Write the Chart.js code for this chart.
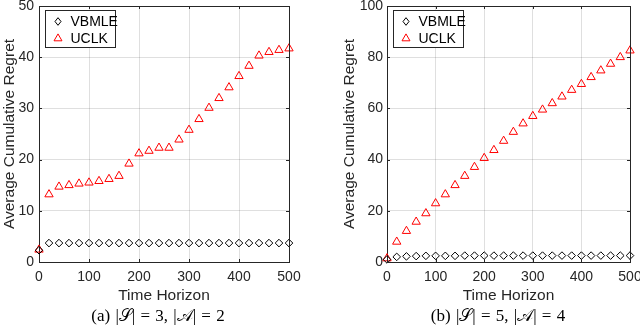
<!DOCTYPE html>
<html>
<head>
<meta charset="utf-8">
<script src="https://cdn.jsdelivr.net/npm/chart.js@4.4.1/dist/chart.umd.min.js"></script>
<style>
  html, body { margin: 0; padding: 0; background: #fff; }
  #wrap { position: relative; width: 640px; height: 328px; overflow: hidden; }
  .panel { position: absolute; top: 0; width: 320px; height: 328px; }
  .caption {
    position: absolute; top: 306px; width: 320px; text-align: center; line-height: 20px;
    font-family: 'Liberation Serif', 'DejaVu Serif', serif; font-size: 17px; color: #000;
    word-spacing: 1px;
  }
</style>
</head>
<body>
<div id="wrap">
  <div class="panel" style="left:0"><canvas id="chartA" width="320" height="328"></canvas></div>
  <div class="panel" style="left:320px"><canvas id="chartB" width="320" height="328"></canvas></div>
  <div class="caption" style="left:-2px">(a) |𝒮| = 3, |𝒜| = 2</div>
  <div class="caption" style="left:338px">(b) |𝒮| = 5, |𝒜| = 4</div>
</div>
<script>
// time horizon sample points (shared by both panels)
const horizon = [0, 20, 40, 60, 80, 100, 120, 140, 160, 180, 200, 220, 240, 260, 280, 300, 320, 340, 360, 380, 400, 420, 440, 460, 480, 500];
const xTicks = [0, 100, 200, 300, 400, 500];

// panel (a): |S| = 3, |A| = 2
const vbmleA = [2.3, 3.7, 3.7, 3.7, 3.7, 3.7, 3.7, 3.7, 3.7, 3.7, 3.7, 3.7, 3.7, 3.7, 3.7, 3.7, 3.7, 3.7, 3.7, 3.7, 3.7, 3.7, 3.7, 3.7, 3.7, 3.7];
const uclkA = [2.4, 13.2, 14.7, 15.0, 15.3, 15.5, 15.8, 16.2, 16.8, 19.2, 21.2, 21.7, 22.3, 22.3, 23.9, 25.8, 27.9, 30.1, 32.0, 34.1, 36.3, 38.3, 40.3, 41.0, 41.4, 41.7];
const yTicksA = [0, 10, 20, 30, 40, 50];

// panel (b): |S| = 5, |A| = 4
const vbmleB = [1.0, 2.0, 2.2, 2.3, 2.4, 2.4, 2.4, 2.4, 2.5, 2.5, 2.5, 2.5, 2.5, 2.5, 2.5, 2.5, 2.5, 2.5, 2.5, 2.5, 2.5, 2.5, 2.5, 2.5, 2.5, 2.5];
const uclkB = [1.4, 7.9, 12.1, 15.7, 19.0, 22.9, 26.4, 30.0, 33.6, 37.1, 40.6, 43.7, 47.3, 50.8, 54.1, 57.0, 59.5, 62.0, 64.6, 67.2, 69.5, 72.2, 74.8, 77.4, 80.0, 82.6];
const yTicksB = [0, 20, 40, 60, 80, 100];

const seriesNames = ['VBMLE', 'UCLK'];

const AXIS = '#262626';
const GRID = 'rgba(38,38,38,0.15)';
const FONT = "'Liberation Sans', Arial, Helvetica, sans-serif";

function toPoints(values) {
  return horizon.map((x, i) => ({ x, y: values[i] }));
}

function drawMarker(ctx, style, x, y) {
  ctx.beginPath();
  if (style === 'triangle') {
    const r = 4.6;
    ctx.moveTo(x, y - r);
    ctx.lineTo(x + r * 0.866, y + r * 0.5);
    ctx.lineTo(x - r * 0.866, y + r * 0.5);
  } else {
    ctx.moveTo(x, y - 3.8);
    ctx.lineTo(x + 3, y);
    ctx.lineTo(x, y + 3.8);
    ctx.lineTo(x - 3, y);
  }
  ctx.closePath();
  ctx.stroke();
}

// box, inward ticks and legend in the MATLAB look
const matlabFrame = {
  id: 'matlabFrame',
  afterDraw(chart) {
    const { ctx, chartArea: a, scales } = chart;
    ctx.save();
    ctx.strokeStyle = AXIS;
    ctx.lineWidth = 1;
    ctx.beginPath();
    ctx.moveTo(a.left, a.top + 0.5);
    ctx.lineTo(a.right + 0.5, a.top + 0.5);
    ctx.lineTo(a.right + 0.5, a.bottom);
    scales.x.ticks.forEach((t) => {
      const px = Math.round(scales.x.getPixelForValue(t.value)) + 0.5;
      ctx.moveTo(px, a.bottom); ctx.lineTo(px, a.bottom - 3);
      ctx.moveTo(px, a.top); ctx.lineTo(px, a.top + 3);
    });
    scales.y.ticks.forEach((t) => {
      const py = Math.round(scales.y.getPixelForValue(t.value)) + 0.5;
      ctx.moveTo(a.left, py); ctx.lineTo(a.left + 3, py);
      ctx.moveTo(a.right, py); ctx.lineTo(a.right - 3, py);
    });
    ctx.stroke();

    // legend box
    const bx = a.left + 6.5, by = a.top + 4.5, bw = 70, bh = 37;
    ctx.fillStyle = '#fff';
    ctx.fillRect(bx, by, bw, bh);
    ctx.strokeRect(bx, by, bw, bh);
    ctx.font = '14px ' + FONT;
    ctx.textBaseline = 'middle';
    chart.data.datasets.forEach((ds, i) => {
      const my = by + 11 + i * 17;
      ctx.strokeStyle = ds.borderColor;
      ctx.lineWidth = 1;
      drawMarker(ctx, ds.pointStyle, bx + 12.5, my);
      ctx.fillStyle = '#000';
      ctx.fillText(ds.label, bx + 25, my + 0.5);
    });
    ctx.restore();
  }
};

function makeChart(canvasId, vbmle, uclk, yTicks, leftPad, yWidth, tickPad, rightPad) {
  const canvas = document.getElementById(canvasId);
  return new Chart(canvas, {
    type: 'scatter',
    data: {
      datasets: [
        {
          label: seriesNames[0],
          data: toPoints(vbmle),
          pointStyle: 'rectRot',
          pointRadius: 3.8,
          pointBorderWidth: 1,
          borderColor: '#000',
          backgroundColor: 'rgba(0,0,0,0)',
          showLine: false
        },
        {
          label: seriesNames[1],
          data: toPoints(uclk),
          pointStyle: 'triangle',
          pointRadius: 4.8,
          pointBorderWidth: 1,
          borderColor: '#ff0000',
          backgroundColor: 'rgba(0,0,0,0)',
          showLine: false
        }
      ]
    },
    options: {
      responsive: false,
      animation: false,
      events: [],
      clip: false,
      layout: { padding: { left: leftPad, top: 6, right: rightPad, bottom: 23 } },
      plugins: { legend: { display: false }, tooltip: { enabled: false } },
      scales: {
        x: {
          type: 'linear',
          min: 0,
          max: 500,
          afterBuildTicks: (scale) => { scale.ticks = xTicks.map((v) => ({ value: v })); },
          afterFit: (scale) => { scale.height = 43; scale.paddingLeft = 0; scale.paddingRight = 0; },
          ticks: { color: AXIS, font: { family: FONT, size: 14 }, padding: 7, maxRotation: 0 },
          grid: { color: GRID, drawTicks: false },
          border: { color: AXIS, width: 1 },
          title: { display: true, text: 'Time Horizon', color: AXIS, font: { family: FONT, size: 15.5 }, padding: 0 }
        },
        y: {
          type: 'linear',
          min: yTicks[0],
          max: yTicks[yTicks.length - 1],
          afterBuildTicks: (scale) => { scale.ticks = yTicks.map((v) => ({ value: v })); },
          afterFit: (scale) => { scale.width = yWidth; scale.paddingTop = 0; scale.paddingBottom = 0; },
          ticks: { color: AXIS, font: { family: FONT, size: 14 }, padding: tickPad },
          grid: { color: GRID, drawTicks: false },
          border: { color: AXIS, width: 1 },
          title: { display: true, text: 'Average Cumulative Regret', color: AXIS, font: { family: FONT, size: 15.5 }, padding: 0 }
        }
      }
    },
    plugins: [matlabFrame]
  });
}

makeChart('chartA', vbmleA, uclkA, yTicksA, 0, 39, 5, 31);
makeChart('chartB', vbmleB, uclkB, yTicksB, 20, 47, 4, 10);
</script>
</body>
</html>
